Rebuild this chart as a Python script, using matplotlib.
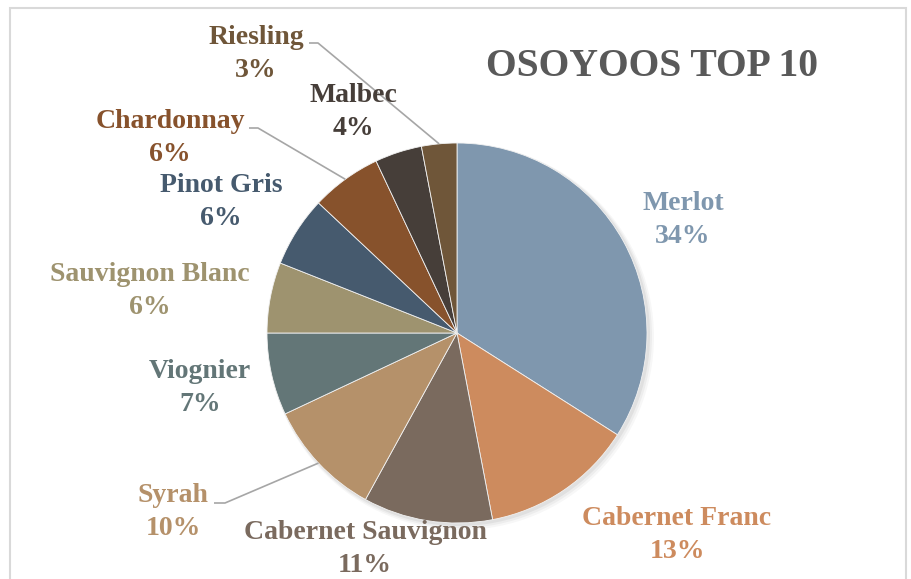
import matplotlib
matplotlib.use("Agg")
import matplotlib.pyplot as plt
from matplotlib.patches import Rectangle, Circle
import numpy as np

# ---- data ----
varieties = ["Merlot", "Cabernet Franc", "Cabernet Sauvignon", "Syrah", "Viognier",
             "Sauvignon Blanc", "Pinot Gris", "Chardonnay", "Malbec", "Riesling"]
shares = [34, 13, 11, 10, 7, 6, 6, 6, 4, 3]
title_text = "OSOYOOS TOP 10"

# ---- style ----
colors = ["#7F97AE", "#CD8B5E", "#7A6A5E", "#B5916A", "#637677",
          "#9E936F", "#465A6E", "#87522C", "#463E39", "#6F5639"]
W, H = 911, 579
cx, cy, R = 457, H - 333, 190
# label block centres (pixel coords, y from top)
label_pos = [(683, 220), (677, 535), (365, 549), (173, 512), (200, 388),
             (150, 291), (221, 202), (170, 138), (353, 112), (256, 54)]
# leader lines: (label-side start, elbow); end on pie edge computed from wedge
leaders = {9: [(309, 43), (318, 43)], 7: [(249, 128), (258, 128)], 3: [(214, 503), (225, 503)]}
FONT = "Liberation Serif"

fig = plt.figure(figsize=(W / 100, H / 100), dpi=100)
ax = fig.add_axes([0, 0, 1, 1])

# chart border
ax.add_patch(Rectangle((9.5, -5), 896.5, H - 7.5 + 5, fill=False,
                       edgecolor="#D9D9D9", linewidth=1.5))

# subtle shadow
for i, a in enumerate([0.05, 0.04, 0.03]):
    ax.add_patch(Circle((cx + 2 + i, cy - 2 - i), R + 1 + i, color="black", alpha=a, lw=0))

wedges, _ = ax.pie(shares, colors=colors, startangle=90, counterclock=False,
                   center=(cx, cy), radius=R, frame=True,
                   wedgeprops=dict(edgecolor="#F2F2F2", linewidth=0.6))
ax.set_xlim(0, W)
ax.set_ylim(0, H)
ax.set_aspect("equal")
ax.axis("off")

for i, (name, val, col) in enumerate(zip(varieties, shares, colors)):
    x, y = label_pos[i]
    ax.text(x, H - y, f"{name}\n{val}%", ha="center", va="center", color=col,
            fontsize=20, fontweight="bold", family=FONT, linespacing=1.4)

for i, pts in leaders.items():
    w = wedges[i]
    ang = np.deg2rad((w.theta1 + w.theta2) / 2)
    ex, ey = cx + R * np.cos(ang), cy + R * np.sin(ang)
    xs = [p[0] for p in pts] + [ex]
    ys = [H - p[1] for p in pts] + [ey]
    ax.plot(xs, ys, color="#A6A6A6", linewidth=1.2, solid_capstyle="butt")

ax.text(652, H - 66, title_text, ha="center", va="center", color="#595959",
        fontsize=28.5, fontweight="bold", family=FONT)

fig.savefig("out.png", dpi=100)
